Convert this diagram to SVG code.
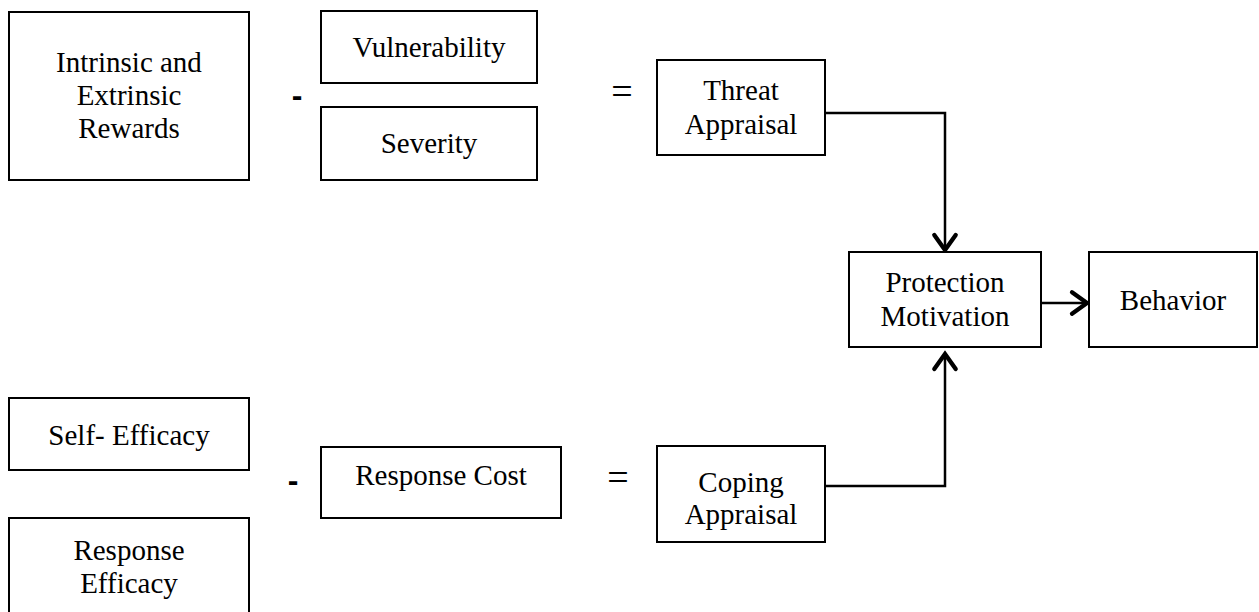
<svg xmlns="http://www.w3.org/2000/svg" width="1259" height="612" viewBox="0 0 1259 612">
<style>
.box{fill:#fff;stroke:#000;stroke-width:2}
.t{font-family:"Liberation Serif","Times New Roman",serif;font-size:29px;fill:#000;text-anchor:middle}
.op{font-family:"Liberation Serif","Times New Roman",serif;font-size:38px;fill:#000;text-anchor:middle}
.mi{font-family:"Liberation Sans",Arial,sans-serif;font-size:32px;fill:#000;text-anchor:middle;font-weight:bold}
.c{fill:none;stroke:#000;stroke-width:2.5}
</style>
<defs>
<marker id="ah" markerUnits="userSpaceOnUse" markerWidth="30" markerHeight="30" viewBox="-16 -14 20 28" refX="0" refY="0" orient="auto">
<path d="M -14 -10 L 0 0 L -14 10" fill="none" stroke="#000" stroke-width="4" stroke-linejoin="miter" stroke-linecap="round"/>
</marker>
</defs>
<rect width="1259" height="612" fill="#fff"/>
<g id="connectors">
<path class="c" d="M 825 113 H 945 V 250" marker-end="url(#ah)"/>
<path class="c" d="M 825 486 H 945 V 354" marker-end="url(#ah)"/>
<path class="c" d="M 1041 303 H 1087" marker-end="url(#ah)"/>
</g>
<g id="rewards"><rect class="box" x="9" y="12" width="240" height="168"/>
<text class="t" x="129" y="72">Intrinsic and</text><text class="t" x="129" y="105">Extrinsic</text><text class="t" x="129" y="138">Rewards</text></g>
<g id="vulnerability"><rect class="box" x="321" y="11" width="216" height="72"/><text class="t" x="429" y="57">Vulnerability</text></g>
<g id="severity"><rect class="box" x="321" y="107" width="216" height="73"/><text class="t" x="429" y="153">Severity</text></g>
<g id="threat"><rect class="box" x="657" y="60" width="168" height="95"/>
<text class="t" x="741" y="100">Threat</text><text class="t" x="741" y="134">Appraisal</text></g>
<g id="protection"><rect class="box" x="849" y="252" width="192" height="95"/>
<text class="t" x="945" y="292">Protection</text><text class="t" x="945" y="326">Motivation</text></g>
<g id="behavior"><rect class="box" x="1089" y="252" width="168" height="95"/><text class="t" x="1173" y="310">Behavior</text></g>
<g id="selfefficacy"><rect class="box" x="9" y="398" width="240" height="72"/><text class="t" x="129" y="445">Self- Efficacy</text></g>
<g id="responseefficacy"><rect class="box" x="9" y="518" width="240" height="120"/>
<text class="t" x="129" y="560">Response</text><text class="t" x="129" y="593">Efficacy</text></g>
<g id="responsecost"><rect class="box" x="321" y="447" width="240" height="71"/><text class="t" x="441" y="485">Response Cost</text></g>
<g id="coping"><rect class="box" x="657" y="446" width="168" height="96"/>
<text class="t" x="741" y="492">Coping</text><text class="t" x="741" y="524">Appraisal</text></g>
<g id="operators">
<text class="mi" x="297" y="106">-</text>
<text class="mi" x="293" y="491">-</text>
<text class="op" x="622" y="104">=</text>
<text class="op" x="618" y="490">=</text>
</g>
</svg>
